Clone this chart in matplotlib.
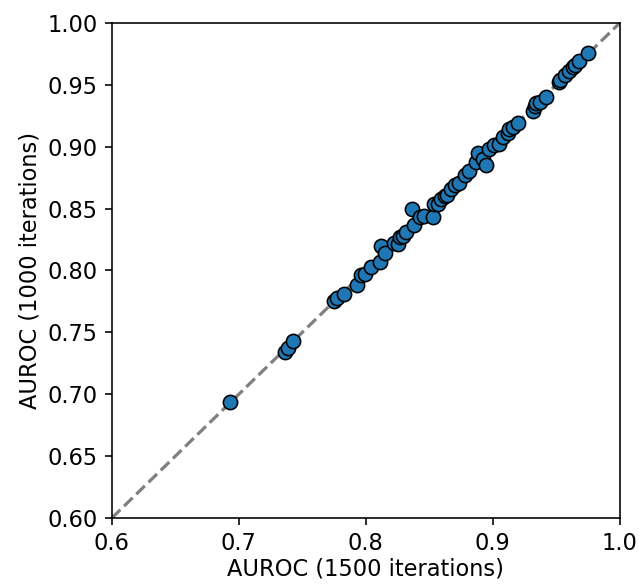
import matplotlib
matplotlib.use('Agg')
import matplotlib.pyplot as plt

# AUROC values
auroc_1500 = [0.693, 0.736, 0.7386, 0.743, 0.775, 0.777, 0.783, 0.793, 0.796, 0.799,
              0.804, 0.811, 0.812, 0.815, 0.822, 0.825, 0.827, 0.829, 0.8316, 0.836,
              0.838, 0.843, 0.846, 0.853, 0.854, 0.857, 0.859, 0.862, 0.864, 0.867,
              0.870, 0.873, 0.878, 0.881, 0.887, 0.888, 0.8925, 0.895, 0.897, 0.9006,
              0.905, 0.908, 0.912, 0.913, 0.916, 0.920, 0.932, 0.933, 0.934, 0.937,
              0.942, 0.952, 0.953, 0.957, 0.960, 0.963, 0.965, 0.968, 0.975]
auroc_1000 = [0.694, 0.7344, 0.737, 0.743, 0.775, 0.778, 0.781, 0.788, 0.796, 0.797,
              0.803, 0.807, 0.820, 0.814, 0.822, 0.8215, 0.827, 0.828, 0.831, 0.850,
              0.837, 0.843, 0.844, 0.843, 0.854, 0.854, 0.858, 0.860, 0.861, 0.866,
              0.869, 0.8705, 0.877, 0.880, 0.888, 0.895, 0.890, 0.8856, 0.898, 0.901,
              0.902, 0.908, 0.911, 0.914, 0.916, 0.919, 0.929, 0.9325, 0.9355, 0.936,
              0.940, 0.952, 0.954, 0.958, 0.961, 0.964, 0.966, 0.969, 0.976]

plt.rcParams['font.size'] = 11.2

fig = plt.figure(figsize=(639 / 145, 587 / 145), dpi=145)
ax = fig.add_axes([0.175, 0.1175, 0.795, 0.8435])

ax.plot([0.6, 1.0], [0.6, 1.0], color='grey', linestyle='--', linewidth=1.6, zorder=1)
ax.scatter(auroc_1500, auroc_1000, s=50, color='#1f77b4', edgecolor='black',
           linewidth=0.8, zorder=2)

ax.set_xlim(0.6, 1.0)
ax.set_ylim(0.6, 1.0)
ax.set_xticks([0.6, 0.7, 0.8, 0.9, 1.0])
ax.set_yticks([0.6, 0.65, 0.7, 0.75, 0.8, 0.85, 0.9, 0.95, 1.0])
ax.set_yticklabels(['0.60', '0.65', '0.70', '0.75', '0.80', '0.85', '0.90', '0.95', '1.00'])
ax.set_xlabel('AUROC (1500 iterations)', labelpad=1)
ax.set_ylabel('AUROC (1000 iterations)', labelpad=3)

fig.savefig('out.png', dpi=145)
